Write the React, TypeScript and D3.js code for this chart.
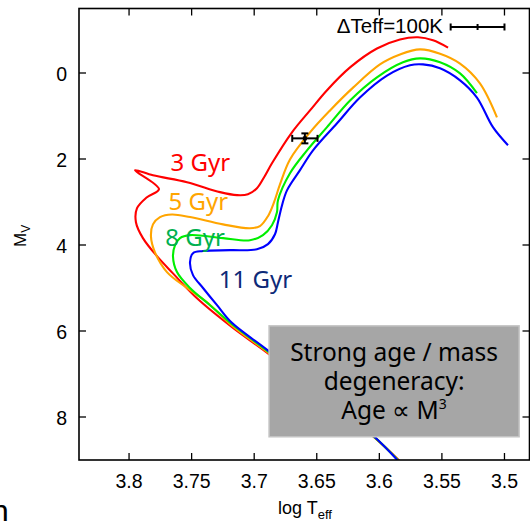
import React from 'react';
import * as d3 from 'd3';

// Isochrones: [log Teff, M_V]
const iso3Gyr: [number, number][] = [
  [3.5811, 9.1], [3.6035, 8.49], [3.6882, 6.54], [3.7169, 5.93], [3.7457, 5.24],
  [3.7649, 4.66], [3.7777, 4.26], [3.7889, 3.84], [3.7945, 3.47], [3.7937, 3.15],
  [3.7857, 2.89], [3.7761, 2.70], [3.7953, 2.26], [3.7809, 2.38], [3.7537, 2.54],
  [3.7273, 2.77], [3.7137, 2.84], [3.7050, 2.82], [3.6978, 2.68], [3.6922, 2.43],
  [3.6858, 2.10], [3.6698, 1.38], [3.6554, 0.87], [3.6418, 0.40], [3.6234, -0.13],
  [3.6019, -0.57], [3.5835, -0.78], [3.5691, -0.83], [3.5571, -0.76], [3.5451, -0.59],
];
const iso5Gyr: [number, number][] = [
  [3.5815, 9.1], [3.604, 8.47], [3.6885, 6.51], [3.7172, 5.89], [3.7377, 5.33],
  [3.7537, 5.00], [3.7697, 4.63], [3.7793, 4.17], [3.7825, 3.80], [3.7809, 3.52],
  [3.7753, 3.35], [3.7657, 3.29], [3.7513, 3.35], [3.7249, 3.52], [3.7034, 3.61],
  [3.6954, 3.56], [3.6890, 3.33], [3.6842, 3.01], [3.6794, 2.59], [3.6714, 2.01],
  [3.6554, 1.38], [3.6394, 0.87], [3.6210, 0.34], [3.5995, -0.20], [3.5835, -0.43],
  [3.5675, -0.55], [3.5515, -0.45], [3.5355, -0.22], [3.5196, 0.24], [3.5060, 1.03],
];
const iso8Gyr: [number, number][] = [
  [3.582, 9.1], [3.6045, 8.45], [3.6888, 6.48], [3.7175, 5.85], [3.7353, 5.40],
  [3.7513, 5.00], [3.7617, 4.63], [3.7649, 4.26], [3.7633, 4.01], [3.7593, 3.84],
  [3.7513, 3.77], [3.7249, 3.84], [3.7034, 3.89], [3.6930, 3.77], [3.6858, 3.54],
  [3.6818, 3.24], [3.6810, 2.96], [3.6714, 2.33], [3.6578, 1.80], [3.6418, 1.26],
  [3.6234, 0.64], [3.6019, 0.10], [3.5811, -0.25], [3.5675, -0.34], [3.5515, -0.25],
  [3.5355, 0.01], [3.5220, 0.47],
];
const iso11Gyr: [number, number][] = [
  [3.5825, 9.1], [3.605, 8.43], [3.6891, 6.45], [3.7178, 5.81], [3.7297, 5.40],
  [3.7409, 5.00], [3.7489, 4.70], [3.7513, 4.40], [3.7489, 4.19], [3.7409, 4.14],
  [3.7193, 4.12], [3.6978, 4.10], [3.6890, 3.98], [3.6834, 3.75], [3.6810, 3.47],
  [3.6778, 3.08], [3.6738, 2.73], [3.6634, 2.26], [3.6530, 1.80], [3.6338, 1.17],
  [3.6155, 0.57], [3.5939, 0.06], [3.5755, -0.18], [3.5651, -0.20], [3.5515, -0.11],
  [3.5355, 0.17], [3.5220, 0.57], [3.5092, 1.26], [3.4972, 1.68],
];

const isoSeries = [iso3Gyr, iso5Gyr, iso8Gyr, iso11Gyr];
const isoColors = ['#ff0000', '#ffa500', '#00ee00', '#0000ff'];

const ageLabels = ['3 Gyr', '5 Gyr', '8 Gyr', '11 Gyr'];
const ageLabelPos: [number, number][] = [[3.7669, 2.28], [3.7685, 3.19], [3.771, 4.02], [3.7283, 5.01]];
const ageLabelColors = ['#ff0000', '#ffa500', '#00b050', '#0d2a78'];

const xTicks = [3.8, 3.75, 3.7, 3.65, 3.6, 3.55, 3.5];
const yTicks = [0, 2, 4, 6, 8];

// observed star with error bars
const starPoint = { t: 3.6595, m: 1.52, dt: 0.0101, dm: 0.116 };
// legend scale bar ΔTeff = 100K
const legendBar = { t0: 3.543, tMid: 3.5215, t1: 3.5, m: -1.07 };
const legendText = 'ΔTeff=100K';

// annotation box (data coords)
const boxCorners = { t0: 3.6881, t1: 3.4883, m0: 5.88, m1: 8.46 };
const boxLines = ['Strong age / mass', 'degeneracy:'];

const W = 530;
const H = 521;
const L = 79;
const R = 529.5;
const T = 8.5;
const B = 460;

export default function App() {
  const x = d3.scaleLinear().domain([3.84, 3.48]).range([L, R]);
  const y = d3.scaleLinear().domain([-1.5, 9]).range([T, B]);
  const line = d3
    .line<[number, number]>()
    .x((d) => x(d[0]))
    .y((d) => y(d[1]))
    .curve(d3.curveCatmullRom.alpha(0.5));

  const tickFont = "'Liberation Sans', Arial, sans-serif";
  const labFont = "'Noto Sans', sans-serif";

  const bx0 = x(boxCorners.t0);
  const bx1 = x(boxCorners.t1);
  const by0 = y(boxCorners.m0);
  const by1 = y(boxCorners.m1);
  const bcx = (bx0 + bx1) / 2;

  const sx = x(starPoint.t);
  const sy = y(starPoint.m);
  const sxl = x(starPoint.t + starPoint.dt);
  const sxr = x(starPoint.t - starPoint.dt);
  const syt = y(starPoint.m - starPoint.dm);
  const syb = y(starPoint.m + starPoint.dm);

  const lx0 = x(legendBar.t0);
  const lx1 = x(legendBar.t1);
  const lxm = x(legendBar.tMid);
  const ly = y(legendBar.m);

  return (
    <svg width={W} height={H} style={{ position: 'absolute', left: 0, top: 0, background: '#fff' }}>
      <defs>
        <clipPath id="plotArea">
          <rect x={L} y={T} width={R - L} height={B - T} />
        </clipPath>
      </defs>
      <rect x={0} y={0} width={W} height={H} fill="#fff" />

      <g clipPath="url(#plotArea)">
        {isoSeries.map((s, i) => (
          <path key={i} d={line(s) || ''} fill="none" stroke={isoColors[i]} strokeWidth={2.1} strokeLinejoin="round" />
        ))}
      </g>

      {/* age labels */}
      {ageLabels.map((lab, i) => (
        <text
          key={lab}
          x={x(ageLabelPos[i][0])}
          y={y(ageLabelPos[i][1])}
          fill={ageLabelColors[i]}
          fontFamily={labFont}
          fontSize={24}
        >
          {lab}
        </text>
      ))}

      {/* error bar */}
      <g stroke="#000" strokeWidth={2} fill="none">
        <line x1={sxl} x2={sxr} y1={sy} y2={sy} />
        <line x1={sxl} x2={sxl} y1={sy - 3.5} y2={sy + 3.5} />
        <line x1={sxr} x2={sxr} y1={sy - 3.5} y2={sy + 3.5} />
        <line x1={sx} x2={sx} y1={syt} y2={syb} />
        <line x1={sx - 3.5} x2={sx + 3.5} y1={syt} y2={syt} />
        <line x1={sx - 3.5} x2={sx + 3.5} y1={syb} y2={syb} />
      </g>
      <rect x={sx - 2} y={sy - 2} width={4} height={4} fill="#000" />

      {/* legend */}
      <text x={443} y={ly + 6.5} textAnchor="end" fontFamily={tickFont} fontSize={20.5} fill="#000">
        {legendText}
      </text>
      <g stroke="#000" strokeWidth={2}>
        <line x1={lx0} x2={lx1} y1={ly} y2={ly} />
        <line x1={lx0} x2={lx0} y1={ly - 3.5} y2={ly + 3.5} />
        <line x1={lxm} x2={lxm} y1={ly - 3} y2={ly + 3} />
        <line x1={lx1} x2={lx1} y1={ly - 3.5} y2={ly + 3.5} />
      </g>

      {/* annotation box */}
      <rect x={bx0} y={by0} width={bx1 - bx0} height={by1 - by0} fill="#a6a6a6" stroke="#c4c4c4" strokeWidth={1.5} />
      <g fontFamily={labFont} fontSize={24.5} fill="#000" textAnchor="middle">
        <text x={bcx} y={by0 + 35}>{boxLines[0]}</text>
        <text x={bcx} y={by0 + 64}>{boxLines[1]}</text>
        <text x={bcx} y={by0 + 93}>
          Age ∝ M<tspan fontSize={14} dy={-10}>3</tspan>
        </text>
      </g>

      {/* frame */}
      <rect x={L} y={T} width={R - L} height={B - T} fill="none" stroke="#000" strokeWidth={1.6} />

      {/* ticks */}
      <g stroke="#000" strokeWidth={1.3}>
        {xTicks.map((t) => (
          <g key={'xt' + t}>
            <line x1={x(t)} x2={x(t)} y1={B} y2={B - 7} />
            <line x1={x(t)} x2={x(t)} y1={T} y2={T + 7} />
          </g>
        ))}
        {yTicks.map((m) => (
          <g key={'yt' + m}>
            <line x1={L} x2={L + 7} y1={y(m)} y2={y(m)} />
            <line x1={R} x2={R - 7} y1={y(m)} y2={y(m)} />
          </g>
        ))}
      </g>
      <g fontFamily={tickFont} fontSize={19.5} fill="#000">
        {xTicks.map((t) => (
          <text key={'xl' + t} x={x(t)} y={488} textAnchor="middle">
            {String(t)}
          </text>
        ))}
        {yTicks.map((m) => (
          <text key={'yl' + m} x={67} y={y(m) + 7.5} textAnchor="end">
            {String(m)}
          </text>
        ))}
      </g>

      {/* axis titles */}
      <text x={305} y={514} textAnchor="middle" fontFamily={tickFont} fontSize={18} fill="#000">
        log T<tspan fontSize={13} dy={5}>eff</tspan>
      </text>
      <text
        transform="translate(26,247) rotate(-90)"
        textAnchor="start"
        fontFamily={tickFont}
        fontSize={17}
        fill="#000"
      >
        M<tspan fontSize={12} dy={4}>V</tspan>
      </text>

      {/* cropped glyph at the bottom-left corner */}
      <text x={-9} y={522} fontFamily={tickFont} fontSize={32} fill="#000">
        n
      </text>
    </svg>
  );
}
